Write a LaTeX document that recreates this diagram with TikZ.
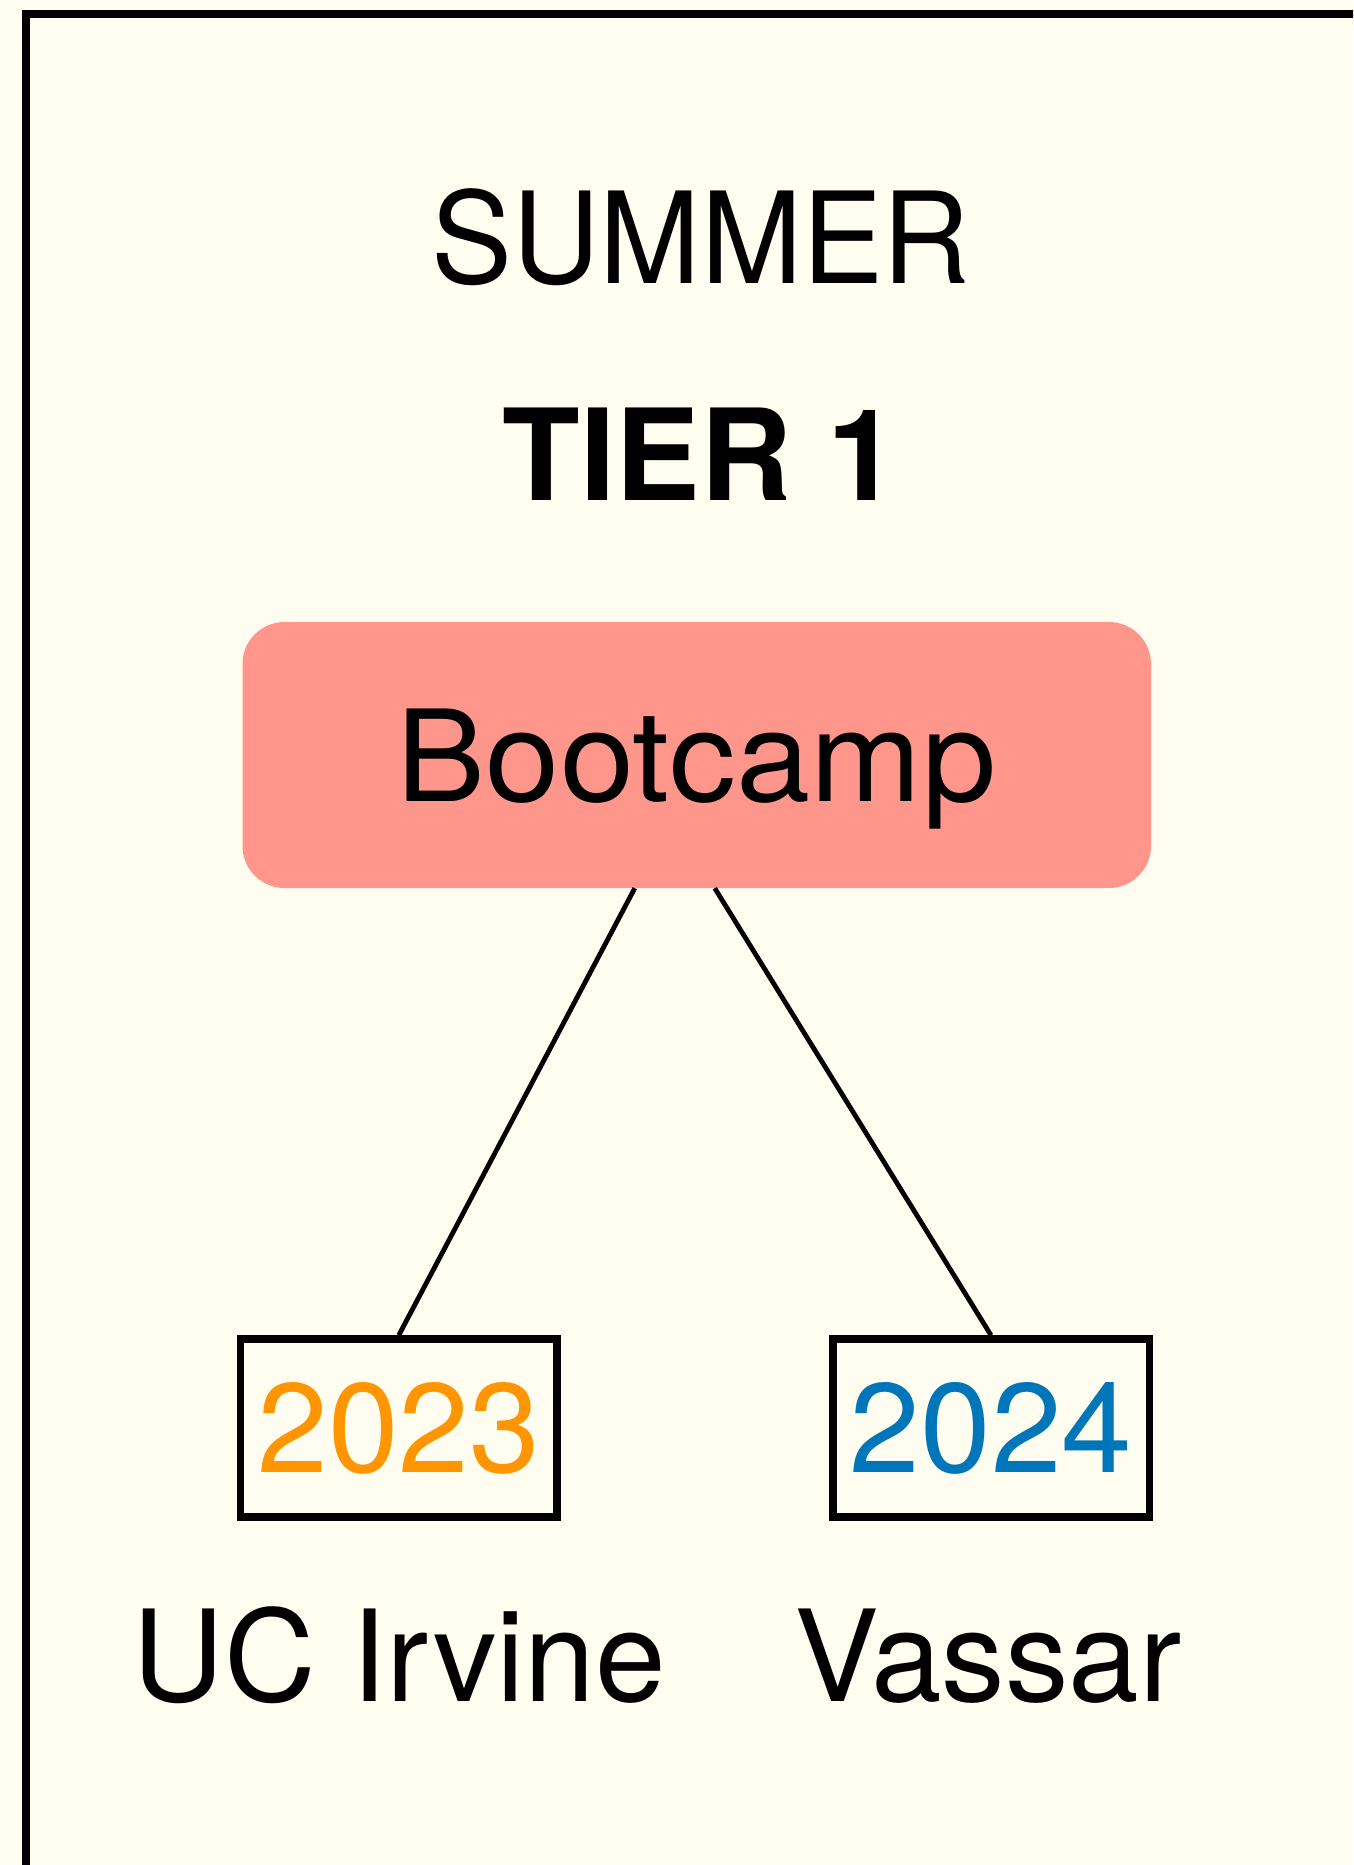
\documentclass[tikz,border=0pt]{standalone}
\usepackage{fontspec}
\setmainfont{TeX Gyre Heros}
\newfontfamily\summerfont[FakeStretch=0.955]{TeX Gyre Heros}
\newfontfamily\campfont[FakeStretch=1.05]{TeX Gyre Heros}
\definecolor{bg}{RGB}{255,253,240}
\definecolor{salmon}{RGB}{255,150,140}
\definecolor{yorange}{RGB}{255,149,0}
\definecolor{yblue}{RGB}{0,118,186}
\tikzset{
  big/.style={font=\fontsize{127}{130}\selectfont, inner sep=0pt},
  yearbox/.style={draw=black, line width=7.5, minimum width=316.5, minimum height=178, inner sep=0pt, fill=bg, font=\fontsize{127}{130}\selectfont},
  link/.style={line width=4.8, draw=black}
}
\begin{document}
\begin{tikzpicture}[x=1pt,y=-1pt]
\useasboundingbox (0,0) rectangle (1353,1865);
\fill[bg] (0,0) rectangle (1353,1865);
\begin{scope}
\clip (0,0) rectangle (1353,1865);
\coordinate (fb) at (25.5,1880);
\coordinate (fc) at (25.5,14);
\coordinate (fr) at (1370,14);
\draw[line width=8] (fb) -- (fc) -- (fr);
\end{scope}
\node[big, anchor=base, font=\fontsize{127}{130}\selectfont\summerfont] (summer) at (701,283.5) {SUMMER};
\node[big, anchor=base, font=\fontsize{127}{130}\selectfont\bfseries] (tier) at (700.5,500) {TIER 1};
\node[fill=salmon, rounded corners=42, minimum width=908.5, minimum height=266, inner sep=0pt, text depth=0pt, font=\fontsize{127}{130}\selectfont\campfont] (camp) at (696.75,755) {Bootcamp};
\node[yearbox, text=yorange] (y23) at (398.75,1428) {2023};
\node[yearbox, text=yblue] (y24) at (991,1428) {2024};
\draw[link] ([xshift=-62]camp.south) -- (y23.north);
\draw[link] ([xshift=18]camp.south) -- (y24.north);
\node[big, anchor=base] (uci) at (399.5,1701.7) {UC Irvine};
\node[big, anchor=base] (vas) at (987.8,1701.7) {Vassar};
\end{tikzpicture}
\end{document}
